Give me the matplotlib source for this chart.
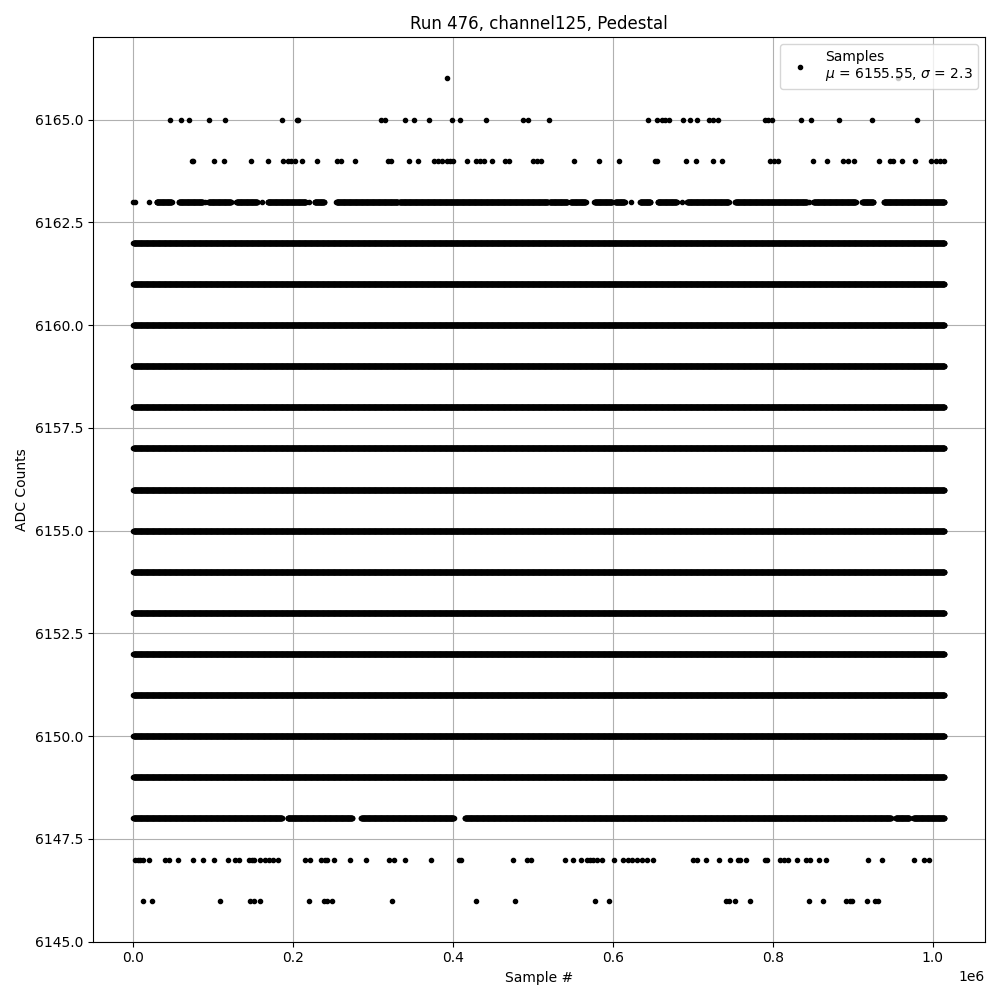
import numpy as np
import matplotlib
matplotlib.use("Agg")
import matplotlib.pyplot as plt

RUN = 476
CHANNEL = 125
N_SAMPLES = 1_015_000
STEP = 300  # spacing of drawn samples inside fully populated stretches

# ADC levels hit all through the run
full_levels = [6149, 6150, 6151, 6152, 6153, 6154, 6155, 6156,
               6157, 6158, 6159, 6160, 6161, 6162]

# levels hit in long stretches, (start, end) in samples
runs_6148 = [(0, 186e3), (193e3, 274e3), (285e3, 401e3), (415e3, 948e3),
             (954e3, 971e3), (976e3, N_SAMPLES)]
runs_6163 = [(29e3, 48e3), (57e3, 87e3), (94e3, 122e3), (129e3, 155e3),
             (168e3, 216e3), (227e3, 239e3), (254e3, 331e3), (333e3, 519e3),
             (521e3, 543e3), (547e3, 566e3), (577e3, 599e3), (603e3, 615e3),
             (634e3, 647e3), (656e3, 680e3), (693e3, 745e3), (753e3, 843e3),
             (851e3, 904e3), (912e3, 926e3), (939e3, N_SAMPLES)]
single_6163 = [0, 2e3, 20e3, 90e3, 161e3, 220e3, 623e3, 686e3, 845e3]

# rare values, sample numbers (x 1e6)
x_6166 = [0.3926, 0.957]
x_6165 = [0.0455, 0.0602, 0.0693, 0.0952, 0.1144, 0.1858, 0.2043, 0.2064,
          0.3095, 0.3149, 0.3400, 0.3513, 0.3700, 0.3989, 0.4089, 0.4415,
          0.4875, 0.4937, 0.5204, 0.6445, 0.6558, 0.6613, 0.6654, 0.6708,
          0.6876, 0.6971, 0.7051, 0.7197, 0.7256, 0.7315, 0.7898, 0.7936,
          0.7986, 0.8350, 0.8475, 0.8826, 0.9239, 0.9803]
x_6164 = [0.0731, 0.0752, 0.1006, 0.1132, 0.1470, 0.1683, 0.1867, 0.1934,
          0.1976, 0.2026, 0.2109, 0.2297, 0.2553, 0.2594, 0.2773, 0.3192,
          0.3229, 0.3450, 0.3563, 0.3759, 0.3813, 0.3863, 0.3919, 0.3960,
          0.4001, 0.4173, 0.4286, 0.4336, 0.4386, 0.4490, 0.4653, 0.4699,
          0.4996, 0.5046, 0.5096, 0.5518, 0.5831, 0.6082, 0.6533, 0.6558,
          0.6921, 0.7046, 0.7259, 0.7360, 0.7970, 0.8011, 0.8061, 0.8500,
          0.8675, 0.8876, 0.8938, 0.9014, 0.9327, 0.9470, 0.9508, 0.9620,
          0.9778, 0.9987, 1.0038, 1.0088, 1.0138]
x_6147 = [0.0025, 0.0054, 0.0084, 0.0117, 0.0192, 0.0401, 0.0451, 0.0555,
          0.0743, 0.0868, 0.1006, 0.1182, 0.1266, 0.1316, 0.1445, 0.1482,
          0.1516, 0.1579, 0.1642, 0.1692, 0.1742, 0.1805, 0.2143, 0.2206,
          0.2352, 0.2393, 0.2422, 0.2510, 0.2707, 0.2907, 0.3199, 0.3258,
          0.3400, 0.3726, 0.4073, 0.4102, 0.4753, 0.4921, 0.4975, 0.5401,
          0.5505, 0.5598, 0.5673, 0.5714, 0.5756, 0.5798, 0.5861, 0.6019,
          0.6132, 0.6187, 0.6237, 0.6300, 0.6362, 0.6425, 0.6508, 0.7009,
          0.7051, 0.7164, 0.7331, 0.7472, 0.7560, 0.7594, 0.7665, 0.7898,
          0.7929, 0.8087, 0.8137, 0.8187, 0.8304, 0.8412, 0.8462, 0.8575,
          0.8663, 0.9189, 0.9365, 0.9766, 0.9896, 0.9954]
x_6146 = [0.0117, 0.0229, 0.1081, 0.1454, 0.1516, 0.1579, 0.2197, 0.2381,
          0.2422, 0.2485, 0.3237, 0.4289, 0.4778, 0.5781, 0.5956, 0.7415,
          0.7456, 0.7523, 0.7711, 0.8450, 0.8625, 0.8919, 0.8963, 0.8997,
          0.9177, 0.9286, 0.9323]

MEAN = 6155.55
SIGMA = 2.3


def fill_runs(runs):
    return np.concatenate([np.arange(a, b, STEP) for a, b in runs])


xs, ys = [], []
for level in full_levels:
    s = fill_runs([(0, N_SAMPLES)])
    xs.append(s)
    ys.append(np.full(len(s), level))

s = fill_runs(runs_6148)
xs.append(s)
ys.append(np.full(len(s), 6148))

s = np.concatenate([fill_runs(runs_6163), single_6163])
xs.append(s)
ys.append(np.full(len(s), 6163))

for level, pts in [(6166, x_6166), (6165, x_6165), (6164, x_6164),
                   (6147, x_6147), (6146, x_6146)]:
    s = np.array(pts) * 1e6
    xs.append(s)
    ys.append(np.full(len(s), level))

x = np.concatenate(xs)
y = np.concatenate(ys)

fig, ax = plt.subplots(figsize=(10, 10), dpi=100)
ax.plot(x, y, "k.",
        label=f"Samples\n$\\mu$ = {MEAN}, $\\sigma$ = {SIGMA}")
ax.set_xlabel("Sample #")
ax.set_ylabel("ADC Counts")
ax.set_title(f"Run {RUN}, channel{CHANNEL}, Pedestal")
ax.grid(True)
ax.legend(loc="upper right")
fig.tight_layout()
fig.savefig("out.png")
